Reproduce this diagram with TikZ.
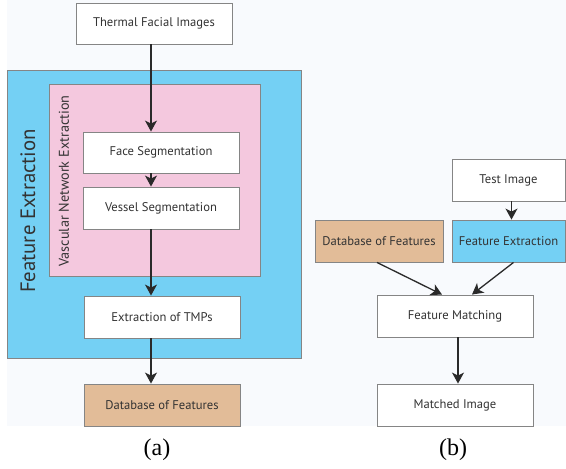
\documentclass[tikz,border=0pt]{standalone}
\usepackage{fontspec}
\setmainfont{Liberation Serif}
\setsansfont{PT Sans}
\usetikzlibrary{arrows.meta}
\definecolor{bgc}{HTML}{F8FAFD}
\definecolor{blueF}{HTML}{74D0F4}
\definecolor{pinkF}{HTML}{F4C8DE}
\definecolor{tanF}{HTML}{E2BC98}
\definecolor{frameC}{HTML}{858585}
\definecolor{txt}{HTML}{333333}
\definecolor{arrC}{HTML}{2A2A2A}
\begin{document}
\begin{tikzpicture}[x=1pt,y=-1pt,
  box/.style={draw=frameC, line width=0.9pt, fill=white, inner sep=0pt,
    text=txt, font=\sffamily\fontsize{12.6}{14}\selectfont, minimum height=42pt},
  region/.style={draw=frameC, line width=0.9pt},
  arr/.style={draw=arrC, line width=1.3pt, -{Stealth[length=11pt,width=12pt,inset=3pt]}},
  sublabel/.style={font=\fontsize{24}{26}\selectfont, text=black}]
\useasboundingbox (0,0) rectangle (566,469);
\fill[bgc] (7,0) rectangle (566,426);
% (a)
\draw[region, fill=blueF] (7,70) rectangle (301,358);
\draw[region, fill=pinkF] (49,84) rectangle (260,276);
\node[rotate=90, text=txt, font=\sffamily\fontsize{20.8}{22}\selectfont] (fe) at (28,211) {Feature Extraction};
\node[rotate=90, text=txt, font=\sffamily\fontsize{14.2}{16}\selectfont] (vne) at (64,181) {Vascular Network Extraction};
\node[box, minimum width=156pt, minimum height=41pt] (thermal) at (154,23.5) {Thermal Facial Images};
\node[box, minimum width=156pt, minimum height=41pt] (face) at (161,152.5) {Face Segmentation};
\node[box, minimum width=156pt] (vessel) at (161,208) {Vessel Segmentation};
\node[box, minimum width=156pt] (tmp) at (162,317) {Extraction of TMPs};
\node[box, minimum width=156pt, fill=tanF] (db) at (162,405) {Database of Features};
\coordinate (ax) at (151,0);
\draw[arr] (thermal.south -| ax) -- (face.north -| ax);
\draw[arr] (face.south -| ax) -- (vessel.north -| ax);
\draw[arr] (vessel.south -| ax) -- (tmp.north -| ax);
\draw[arr] (tmp.south -| ax) -- (db.north -| ax);
\node[sublabel] (la) at (157,450) {(a)};
% (b)
\node[box, minimum width=113pt] (test) at (508.5,180) {Test Image};
\node[box, minimum width=128pt, fill=tanF] (dbb) at (379,241) {Database of Features};
\node[box, minimum width=113pt, fill=blueF] (feb) at (508.5,241) {Feature Extraction};
\node[box, minimum width=156pt] (fm) at (455,316) {Feature Matching};
\node[box, minimum width=156pt] (mi) at (455,405) {Matched Image};
\draw[arr] ([xshift=3pt]test.south) -- ([xshift=3pt]feb.north);
\draw[arr] ([xshift=-2pt]dbb.south) -- ([xshift=-13pt]fm.north);
\draw[arr] ([xshift=5pt]feb.south) -- ([xshift=17pt]fm.north);
\draw[arr] ([xshift=3pt]fm.south) -- ([xshift=3pt]mi.north);
\node[sublabel] (lb) at (453,450) {(b)};
\end{tikzpicture}
\end{document}
